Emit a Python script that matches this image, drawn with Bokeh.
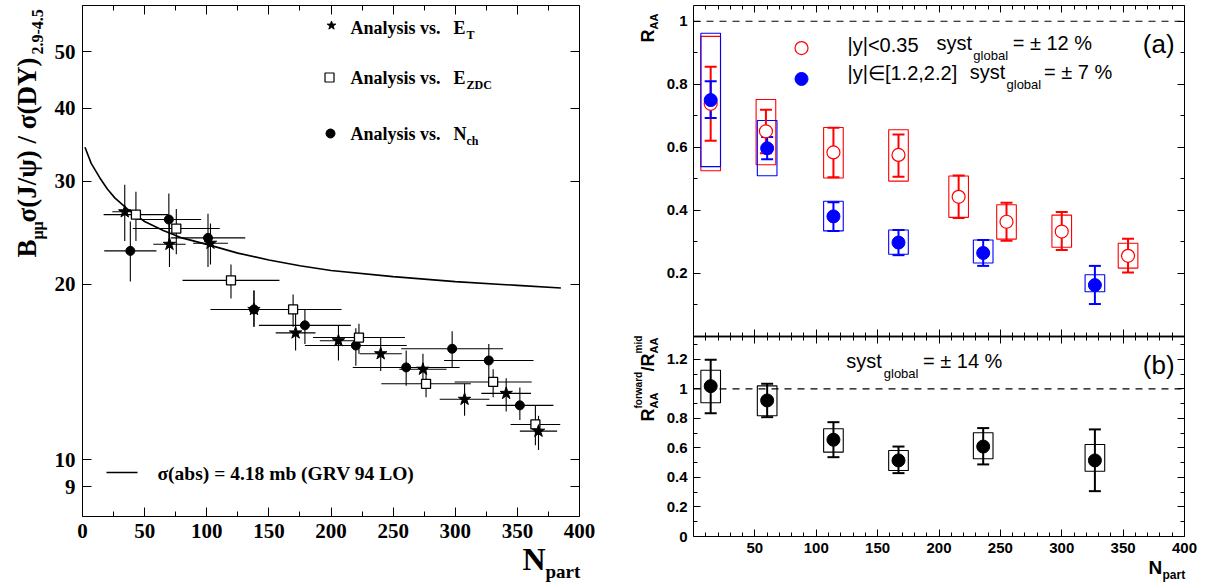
import numpy as np
from math import pi, log10
from bokeh.plotting import figure
from bokeh.layouts import row
from bokeh.models import (Label, Whisker, TeeHead, ColumnDataSource, FixedTicker,
                          LinearAxis, CustomJSTickFormatter, Range1d)
from bokeh.embed import file_html
from bokeh.resources import INLINE

# ---------------- data: left panel ----------------
et_x = [34, 70, 103, 138, 171.5, 206, 240, 274, 307.5, 341, 367]
et_y = [26.6, 23.4, 23.5, 18.1, 16.5, 16.0, 15.2, 14.3, 12.7, 13.0, 11.2]
et_xerr = [10, 13, 14, 15, 16, 15, 17, 19, 20, 20, 15]
et_ylo = [23.7, 21.4, 21.6, 16.9, 15.4, 14.8, 14.2, 13.3, 11.9, 12.1, 10.4]
et_yhi = [29.6, 25.6, 25.4, 19.5, 17.8, 17.0, 16.2, 15.2, 13.5, 13.8, 11.9]

zdc_x = [43, 75.5, 119.5, 169.5, 222.5, 276.5, 330.5, 364.5]
zdc_y = [26.3, 24.9, 20.3, 18.1, 16.2, 13.5, 13.6, 11.5]
zdc_xerr = [26, 35, 39, 39, 37, 36, 31, 20]
zdc_ylo = [23.7, 22.5, 18.9, 16.9, 15.2, 12.8, 12.8, 10.6]
zdc_yhi = [28.8, 26.9, 21.6, 19.2, 17.1, 14.3, 14.3, 12.4]

nch_x = [38.5, 69.5, 101, 138, 179, 220, 260.5, 297.5, 327, 352]
nch_y = [22.8, 25.8, 24.0, 18.1, 17.0, 15.7, 14.4, 15.5, 14.8, 12.4]
nch_xerr = [21, 26, 30, 35, 37, 41, 43, 41, 36, 27]
nch_ylo = [20.2, 23.2, 21.4, 16.9, 15.8, 14.5, 13.4, 14.4, 13.6, 11.7]
nch_yhi = [25.6, 28.6, 26.4, 19.5, 18.1, 16.8, 15.4, 16.6, 15.8, 13.3]

curve_x = [2, 7, 14, 20, 26, 36, 50, 65, 80, 103, 125, 150, 175, 200, 250, 300, 350, 385]
curve_y = [34.3, 32.2, 30.4, 29.1, 28.1, 26.9, 25.6, 24.7, 24.0, 23.3, 22.6, 22.0, 21.5,
           21.1, 20.6, 20.2, 19.9, 19.7]

left_xticks = [0, 50, 100, 150, 200, 250, 300, 350, 400]
left_xminor = [25, 75, 125, 175, 225, 275, 325, 375]
left_yticks = [9, 10, 20, 30, 40, 50]

# ---------------- data: right panels ----------------
mid_x = [14, 59, 114, 167, 216, 255, 300, 354]
mid_y = [0.738, 0.651, 0.584, 0.576, 0.443, 0.364, 0.333, 0.256]
mid_stat_hi = [0.856, 0.719, 0.662, 0.641, 0.511, 0.424, 0.395, 0.310]
mid_stat_lo = [0.621, 0.581, 0.505, 0.507, 0.376, 0.304, 0.274, 0.203]
mid_syst_hi = [0.952, 0.752, 0.663, 0.656, 0.509, 0.418, 0.385, 0.296]
mid_syst_lo = [0.526, 0.545, 0.503, 0.493, 0.378, 0.309, 0.283, 0.217]

fwd_x = [14, 60, 114, 167, 236, 327]
fwd_y = [0.750, 0.597, 0.381, 0.298, 0.265, 0.163]
fwd_stat_hi = [0.810, 0.633, 0.426, 0.338, 0.306, 0.224]
fwd_stat_lo = [0.693, 0.562, 0.335, 0.258, 0.224, 0.103]
fwd_syst_hi = [0.962, 0.685, 0.429, 0.338, 0.306, 0.196]
fwd_syst_lo = [0.539, 0.510, 0.335, 0.261, 0.233, 0.142]

ratio_x = [14, 60, 114, 167, 236, 327]
ratio_y = [1.018, 0.921, 0.655, 0.515, 0.609, 0.515]
ratio_stat_hi = [1.196, 1.034, 0.774, 0.609, 0.734, 0.725]
ratio_stat_lo = [0.835, 0.808, 0.537, 0.429, 0.488, 0.307]
ratio_syst_hi = [1.126, 1.020, 0.729, 0.582, 0.702, 0.623]
ratio_syst_lo = [0.905, 0.817, 0.571, 0.447, 0.526, 0.442]

right_xticks = [50, 100, 150, 200, 250, 300, 350, 400]
right_xminor = [v for v in range(10, 400, 10) if v % 50 != 0]
a_yticks = [0.2, 0.4, 0.6, 0.8, 1.0]
a_yminor = [0.1, 0.3, 0.5, 0.7, 0.9]
b_yticks = [0, 0.2, 0.4, 0.6, 0.8, 1.0, 1.2]
b_yminor = [0.1, 0.3, 0.5, 0.7, 0.9, 1.1, 1.3]

# ---------------- styles / geometry ----------------
SERIF = "Liberation Serif"
SANS = "Liberation Sans"
RED = "#ff0000"
BLUE = "#0000ff"
BOX_HALF = 8
W_LEFT, W_RIGHT, H = 610, 609, 583
BASE_SHIFT = 0.28   # fraction of font size: renderer draws "alphabetic" text this much low

X_MIN, X_MAX = 0, 400
L_X0, L_X1, L_Y0, L_Y1 = 82, 579, 5, 516
Y_LO, Y_HI = 8, 60
R_X0, R_X1 = 693 - W_LEFT, 1184 - W_LEFT
A_TOP, A_BOT, B_BOT = 5, 336, 536
A_MAX, B_MAX = 1.05, 1.354


def LX(px):
    return (px - L_X0) / (L_X1 - L_X0) * (X_MAX - X_MIN)


def LY(py):
    return 10 ** (log10(Y_LO) + (L_Y1 - py) / (L_Y1 - L_Y0) * (log10(Y_HI) - log10(Y_LO)))


def RX(px):  # px in page coordinates
    return (px - W_LEFT - R_X0) / (R_X1 - R_X0) * (X_MAX - X_MIN)


def AY(py):
    return (A_BOT - py) / (A_BOT - A_TOP) * A_MAX


def BY(py):
    return (B_BOT - py) / (B_BOT - A_BOT) * B_MAX


def txt(p, x, y, text, size, font, style="bold", angle=0, rng="default"):
    if angle:
        xo, yo = -BASE_SHIFT * size, 0
    else:
        xo, yo = 0, BASE_SHIFT * size
    p.add_layout(Label(x=x, y=y, x_offset=xo, y_offset=yo, text=text,
                       text_font_size=f"{size}px", text_font=font,
                       text_font_style=style, angle=angle, text_align="left",
                       text_baseline="alphabetic", text_color="black", y_range_name=rng))


EMPTY = CustomJSTickFormatter(code="return '';")


def add_axis(p, side, ticker, loc, bounds, font, size=None, tin=9, tmin=5, formatter=None,
             standoff=6, rng="default", line_width=1):
    ax = LinearAxis(ticker=ticker, fixed_location=loc, bounds=bounds,
                    formatter=formatter if (formatter is not None and size) else EMPTY,
                    y_range_name=rng)
    ax.major_tick_in = tin
    ax.major_tick_out = 0
    ax.minor_tick_in = tmin
    ax.minor_tick_out = 0
    ax.axis_line_color = "black"
    ax.axis_line_width = line_width
    ax.major_tick_line_color = "black"
    ax.minor_tick_line_color = "black"
    ax.major_label_text_font = font
    ax.major_label_text_font_style = "bold"
    ax.major_label_text_color = "black"
    if size:
        ax.major_label_text_font_size = size
        ax.major_label_standoff = standoff
    else:
        ax.major_label_text_font_size = "0px"
        ax.major_label_standoff = 0
    p.add_layout(ax, side)
    return ax


def base_fig(**kw):
    p = figure(title=None, output_backend="svg", toolbar_location=None,
               background_fill_color="white", border_fill_color="white",
               outline_line_color=None, min_border=0, x_axis_location=None,
               y_axis_location=None, **kw)
    p.grid.visible = False
    return p


# ======================= LEFT PANEL =======================
left = base_fig(x_range=Range1d(LX(0), LX(W_LEFT)), y_range=Range1d(LY(H), LY(0)),
                y_axis_type="log", frame_width=W_LEFT, frame_height=H)

lxt = FixedTicker(ticks=left_xticks, minor_ticks=left_xminor)
lyt = FixedTicker(ticks=left_yticks, minor_ticks=[])
int_fmt = CustomJSTickFormatter(code="return tick.toFixed(0);")
add_axis(left, "below", lxt, Y_LO, (X_MIN, X_MAX), SERIF, "21px", formatter=int_fmt, standoff=7)
add_axis(left, "above", lxt, Y_HI, (X_MIN, X_MAX), SERIF)
add_axis(left, "left", lyt, X_MIN, (Y_LO, Y_HI), SERIF, "21px", formatter=int_fmt, standoff=7)
add_axis(left, "right", lyt, X_MAX, (Y_LO, Y_HI), SERIF)


def err_bars(p, x, y, xerr, ylo, yhi):
    x = np.array(x, float)
    y = np.array(y, float)
    xerr = np.array(xerr, float)
    p.segment(x0=x - xerr, x1=x + xerr, y0=y, y1=y, line_color="black", line_width=1.1)
    p.segment(x0=x, x1=x, y0=ylo, y1=yhi, line_color="black", line_width=1.1)


err_bars(left, et_x, et_y, et_xerr, et_ylo, et_yhi)
err_bars(left, zdc_x, zdc_y, zdc_xerr, zdc_ylo, zdc_yhi)
err_bars(left, nch_x, nch_y, nch_xerr, nch_ylo, nch_yhi)

left.line(curve_x, curve_y, line_color="black", line_width=1.6)

left.scatter(nch_x, nch_y, marker="circle", size=9, fill_color="black", line_color="black")
left.scatter(zdc_x, zdc_y, marker="square", size=9, fill_color="white", line_color="black",
             line_width=1.3)
left.scatter(et_x, et_y, marker="star", size=13, fill_color="black", line_color="black")

# legend keys and texts
left.scatter([LX(331)], [LY(25)], marker="star", size=9, fill_color="black", line_color="black")
left.scatter([LX(329)], [LY(77)], marker="square", size=9, fill_color="white", line_color="black",
             line_width=1.2)
left.scatter([LX(330)], [LY(133)], marker="circle", size=9, fill_color="black", line_color="black")
for base_y, sym, sub in [(33, "E", "T"), (83, "E", "ZDC"), (139, "N", "ch")]:
    txt(left, LX(350), LY(base_y), "Analysis vs.", 18, SERIF)
    txt(left, LX(453), LY(base_y), sym, 18, SERIF)
    txt(left, LX(466), LY(base_y + 5), sub, 12, SERIF)

left.segment(x0=[LX(106)], x1=[LX(137)], y0=[LY(472)], y1=[LY(472)], line_color="black",
             line_width=1.6)
txt(left, LX(157), LY(478), "σ(abs) = 4.18 mb (GRV 94 LO)", 19.5, SERIF)

# axis titles
txt(left, LX(522), LY(567), "N", 32, SERIF)
txt(left, LX(545), LY(576), "part", 19, SERIF)

txt(left, LX(34), LY(257), "B", 27, SERIF, angle=pi / 2)
txt(left, LX(41), LY(239), "μμ", 16, SERIF, angle=pi / 2)
txt(left, LX(34), LY(222), "σ(J/ψ) / σ(DY)", 27, SERIF, angle=pi / 2)
txt(left, LX(41), LY(54), "2.9-4.5", 16, SERIF, angle=pi / 2)

# ======================= RIGHT PANELS (one canvas, two y ranges) =======================
rfig = base_fig(x_range=Range1d(RX(W_LEFT), RX(W_LEFT + W_RIGHT)),
                y_range=Range1d(AY(H), AY(0)),
                frame_width=W_RIGHT, frame_height=H)
rfig.extra_y_ranges = {"b": Range1d(BY(H), BY(0))}

rxt = FixedTicker(ticks=right_xticks, minor_ticks=right_xminor)
ayt = FixedTicker(ticks=a_yticks, minor_ticks=a_yminor)
byt = FixedTicker(ticks=b_yticks, minor_ticks=b_yminor)
fmt = CustomJSTickFormatter(code="return tick.toFixed(1).replace(/\\.0$/, '');")

add_axis(rfig, "left", ayt, X_MIN, (0, A_MAX), SANS, "15px", 7, 4, formatter=fmt)
add_axis(rfig, "right", ayt, X_MAX, (0, A_MAX), SANS, None, 7, 4)
add_axis(rfig, "above", rxt, A_MAX, (X_MIN, X_MAX), SANS, None, 7, 4)
add_axis(rfig, "below", rxt, 0, (X_MIN, X_MAX), SANS, None, 7, 4, line_width=1.5)
add_axis(rfig, "left", byt, X_MIN, (0, B_MAX), SANS, "15px", 7, 4, formatter=fmt, rng="b")
add_axis(rfig, "right", byt, X_MAX, (0, B_MAX), SANS, None, 7, 4, rng="b")
add_axis(rfig, "above", rxt, B_MAX, (X_MIN, X_MAX), SANS, None, 7, 4, rng="b", line_width=1.5)
add_axis(rfig, "below", rxt, 0, (X_MIN, X_MAX), SANS, "15px", 7, 4,
         formatter=CustomJSTickFormatter(code="return tick.toFixed(0);"), rng="b")

rfig.segment(x0=[X_MIN], x1=[X_MAX], y0=[1], y1=[1], line_color="black", line_width=1.2,
             line_dash="7 6")
rfig.segment(x0=[X_MIN], x1=[X_MAX], y0=[1], y1=[1], line_color="black", line_width=1.2,
             line_dash="7 6", y_range_name="b")


def raa_series(p, x, shi, slo, yhi, ylo, color, rng="default"):
    x = np.array(x, float)
    p.quad(left=x - BOX_HALF, right=x + BOX_HALF, bottom=ylo, top=yhi, fill_color=None,
           line_color=color, line_width=1.1, y_range_name=rng)
    src = ColumnDataSource(dict(x=x, lo=slo, hi=shi))
    p.add_layout(Whisker(source=src, base="x", lower="lo", upper="hi", line_color=color,
                         line_width=2, level="glyph", y_range_name=rng,
                         upper_head=TeeHead(size=12, line_color=color, line_width=2),
                         lower_head=TeeHead(size=12, line_color=color, line_width=2)))


raa_series(rfig, mid_x, mid_stat_hi, mid_stat_lo, mid_syst_hi, mid_syst_lo, RED)
raa_series(rfig, fwd_x, fwd_stat_hi, fwd_stat_lo, fwd_syst_hi, fwd_syst_lo, BLUE)
raa_series(rfig, ratio_x, ratio_stat_hi, ratio_stat_lo, ratio_syst_hi, ratio_syst_lo, "black",
           rng="b")

mk_mid = rfig.scatter(mid_x, mid_y, marker="circle", size=13, fill_color="white",
                      line_color=RED, line_width=1.2)
mk_fwd = rfig.scatter(fwd_x, fwd_y, marker="circle", size=13, fill_color=BLUE, line_color=BLUE)
mk_rat = rfig.scatter(ratio_x, ratio_y, marker="circle", size=13, fill_color="black",
                      line_color="black", y_range_name="b")
for r in (mk_mid, mk_fwd, mk_rat):
    r.level = "overlay"

rfig.scatter([88], [0.915], marker="circle", size=13, fill_color="white", line_color=RED,
             line_width=1.2)
rfig.scatter([88], [0.817], marker="circle", size=13, fill_color=BLUE, line_color=BLUE)
txt(rfig, 125.5, 0.907, "|y|<0.35", 20, SANS, style="normal")
txt(rfig, 198, 0.912, "syst", 20, SANS, style="normal")
txt(rfig, 228, 0.880, "global", 13, SANS, style="normal")
txt(rfig, 260, 0.912, "= ± 12 %", 20, SANS, style="normal")
txt(rfig, 125.5, 0.817, "|y|∈[1.2,2.2]", 20, SANS, style="normal")
txt(rfig, 225, 0.820, "syst", 20, SANS, style="normal")
txt(rfig, 255, 0.788, "global", 13, SANS, style="normal")
txt(rfig, 285.5, 0.820, "= ± 7 %", 20, SANS, style="normal")
txt(rfig, 366, 0.905, "(a)", 26, SANS, style="normal")

txt(rfig, 124.5, 1.147, "syst", 20, SANS, style="normal", rng="b")
txt(rfig, 155, 1.079, "global", 13, SANS, style="normal", rng="b")
txt(rfig, 187, 1.147, "= ± 14 %", 20, SANS, style="normal", rng="b")
txt(rfig, 366, 1.11, "(b)", 26, SANS, style="normal", rng="b")

txt(rfig, RX(653), AY(42), "R", 18, SANS, angle=pi / 2)
txt(rfig, RX(657), AY(29), "AA", 11, SANS, angle=pi / 2)

txt(rfig, RX(653), BY(421), "R", 18, SANS, angle=pi / 2, rng="b")
txt(rfig, RX(657), BY(408), "AA", 11, SANS, angle=pi / 2, rng="b")
txt(rfig, RX(641), BY(408), "forward", 10, SANS, angle=pi / 2, rng="b")
txt(rfig, RX(653), BY(371), "/R", 18, SANS, angle=pi / 2, rng="b")
txt(rfig, RX(657), BY(353), "AA", 11, SANS, angle=pi / 2, rng="b")
txt(rfig, RX(641), BY(353), "mid", 10, SANS, angle=pi / 2, rng="b")

txt(rfig, RX(1148), BY(572), "N", 19, SANS, rng="b")
txt(rfig, RX(1162), BY(578), "part", 12, SANS, rng="b")

layout = row(left, rfig, spacing=0)
open("out.html", "w").write(file_html(layout, INLINE))
